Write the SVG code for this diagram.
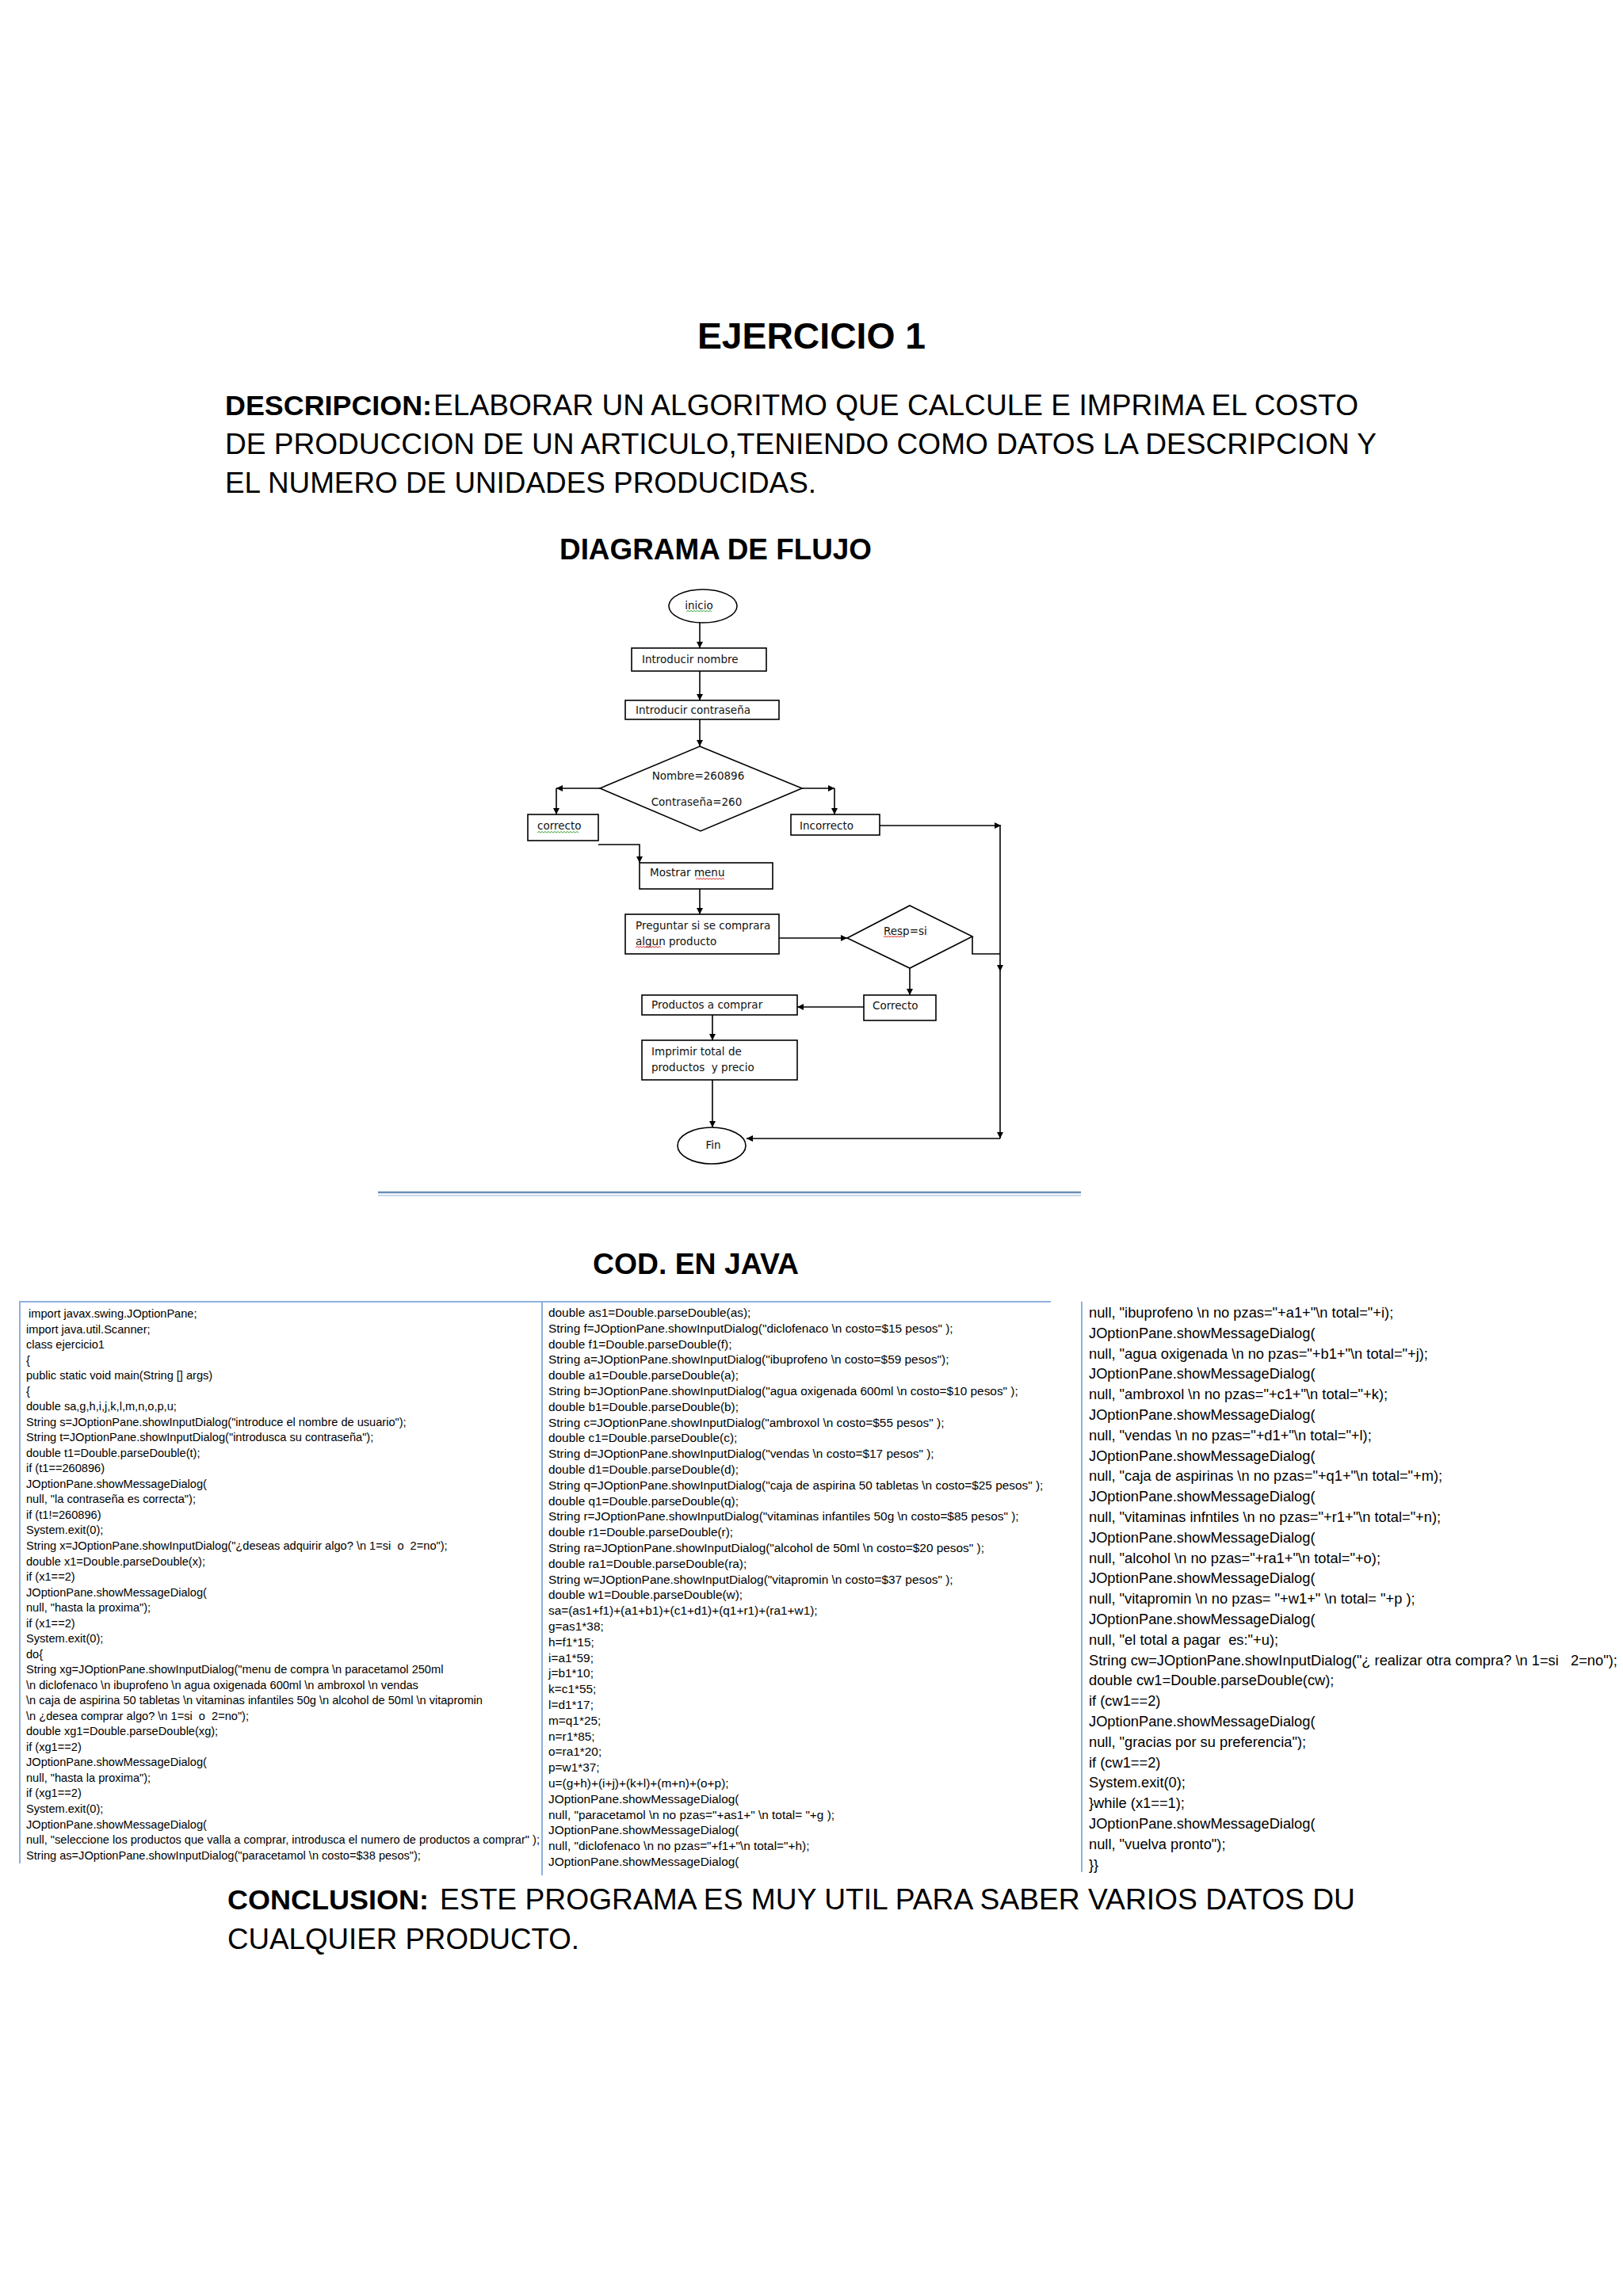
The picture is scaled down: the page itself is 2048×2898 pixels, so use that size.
<svg xmlns="http://www.w3.org/2000/svg" width="2048" height="2898" viewBox="0 0 2048 2898">
<style>
.h{font-family:"Liberation Sans",Arial,sans-serif;font-weight:bold;fill:#000}
.p{font-family:"Liberation Sans",Arial,sans-serif;fill:#000}
.f{font-family:"DejaVu Sans","Liberation Sans",sans-serif;font-size:13.5px;fill:#111;white-space:pre}
.box{fill:#fff;stroke:#000;stroke-width:1.6}
.cn{fill:none;stroke:#000;stroke-width:1.6}
.c1{font-family:"Liberation Sans",Arial,sans-serif;font-size:14.6px;fill:#000;white-space:pre}
.c2{font-family:"Liberation Sans",Arial,sans-serif;font-size:15.4px;fill:#000;white-space:pre}
.c3{font-family:"Liberation Sans",Arial,sans-serif;font-size:18.3px;fill:#000;white-space:pre}
.bd{stroke:#8fb0dc;stroke-width:2;fill:none}
.wg{fill:none;stroke:#3aa63a;stroke-width:1}
.wr{fill:none;stroke:#e02828;stroke-width:1}
</style>
<defs>
<marker id="ah" viewBox="0 0 10 10" refX="10" refY="5" markerWidth="9" markerHeight="8" markerUnits="userSpaceOnUse" orient="auto">
<path d="M0,0 L10,5 L0,10 z" fill="#000"/>
</marker>
</defs>
<rect width="2048" height="2898" fill="#fff"/>

<g id="headings">
<text class="h" x="880" y="440" font-size="46" textLength="288" lengthAdjust="spacingAndGlyphs">EJERCICIO 1</text>
<text class="h" x="284" y="524" font-size="35" textLength="261" lengthAdjust="spacingAndGlyphs">DESCRIPCION:</text>
<text class="p" x="547" y="524" font-size="36" textLength="1167" lengthAdjust="spacingAndGlyphs">ELABORAR UN ALGORITMO QUE CALCULE E IMPRIMA EL COSTO</text>
<text class="p" x="284" y="573" font-size="36" textLength="1453" lengthAdjust="spacingAndGlyphs">DE PRODUCCION DE UN ARTICULO,TENIENDO COMO DATOS LA DESCRIPCION Y</text>
<text class="p" x="284" y="622" font-size="36" textLength="746" lengthAdjust="spacingAndGlyphs">EL NUMERO DE UNIDADES PRODUCIDAS.</text>
<text class="h" x="706" y="706" font-size="37" textLength="394" lengthAdjust="spacingAndGlyphs">DIAGRAMA DE FLUJO</text>
<text class="h" x="748" y="1608" font-size="36" textLength="260" lengthAdjust="spacingAndGlyphs">COD. EN JAVA</text>
<text class="h" x="287" y="2410" font-size="35" textLength="254" lengthAdjust="spacingAndGlyphs">CONCLUSION:</text>
<text class="p" x="555" y="2410" font-size="36" textLength="1155" lengthAdjust="spacingAndGlyphs">ESTE PROGRAMA ES MUY UTIL PARA SABER VARIOS DATOS DU</text>
<text class="p" x="287" y="2460" font-size="36" textLength="444" lengthAdjust="spacingAndGlyphs">CUALQUIER PRODUCTO.</text>
</g>

<g id="connectors">
<line class="cn" x1="883" y1="785" x2="883" y2="818" marker-end="url(#ah)"/>
<line class="cn" x1="883" y1="847" x2="883" y2="884" marker-end="url(#ah)"/>
<line class="cn" x1="883" y1="908" x2="883" y2="942" marker-end="url(#ah)"/>
<line class="cn" x1="757" y1="995" x2="702" y2="995" marker-end="url(#ah)"/>
<line class="cn" x1="702" y1="995" x2="702" y2="1028" marker-end="url(#ah)"/>
<line class="cn" x1="1012" y1="995" x2="1053" y2="995" marker-end="url(#ah)"/>
<line class="cn" x1="1053" y1="995" x2="1053" y2="1028" marker-end="url(#ah)"/>
<line class="cn" x1="1110" y1="1042" x2="1263" y2="1042" marker-end="url(#ah)"/>
<line class="cn" x1="1262" y1="1042" x2="1262" y2="1226" marker-end="url(#ah)"/>
<line class="cn" x1="1262" y1="1226" x2="1262" y2="1437" marker-end="url(#ah)"/>
<line class="cn" x1="1262" y1="1437" x2="942" y2="1437" marker-end="url(#ah)"/>
<path class="cn" d="M755,1066 H807 V1089" marker-end="url(#ah)"/>
<line class="cn" x1="883" y1="1122" x2="883" y2="1154" marker-end="url(#ah)"/>
<line class="cn" x1="983" y1="1184" x2="1069" y2="1184" marker-end="url(#ah)"/>
<path class="cn" d="M1227,1182 V1204 H1262"/>
<line class="cn" x1="1148" y1="1222" x2="1148" y2="1256" marker-end="url(#ah)"/>
<line class="cn" x1="1090" y1="1271" x2="1006" y2="1271" marker-end="url(#ah)"/>
<line class="cn" x1="899" y1="1281" x2="899" y2="1313" marker-end="url(#ah)"/>
<line class="cn" x1="899" y1="1363" x2="899" y2="1423" marker-end="url(#ah)"/>
</g>

<g id="n-inicio">
<ellipse class="box" cx="887" cy="765" rx="43" ry="21"/>
<text class="f" x="882" y="769" text-anchor="middle">inicio</text>
<path class="wg" d="M866,772 l2,-1.5 l2,1.5 l2,-1.5 l2,1.5 l2,-1.5 l2,1.5 l2,-1.5 l2,1.5 l2,-1.5 l2,1.5 l2,-1.5 l2,1.5 l2,-1.5 l2,1.5 l2,-1.5 l2,1.5"/>
</g>
<g id="n-nombre">
<rect class="box" x="797" y="818" width="170" height="29"/>
<text class="f" x="810" y="837">Introducir nombre</text>
</g>
<g id="n-contrasena">
<rect class="box" x="789" y="884" width="194" height="24"/>
<text class="f" x="802" y="901">Introducir contraseña</text>
</g>
<g id="n-decision1">
<polygon class="box" points="883,942 1012,995 884,1049 757,995"/>
<text class="f" x="881" y="984" text-anchor="middle">Nombre=260896</text>
<text class="f" x="879" y="1017" text-anchor="middle">Contraseña=260</text>
</g>
<g id="n-correcto">
<rect class="box" x="666" y="1028" width="89" height="33"/>
<text class="f" x="678" y="1047">correcto</text>
<path class="wg" d="M678,1051 l2,-1.5 l2,1.5 l2,-1.5 l2,1.5 l2,-1.5 l2,1.5 l2,-1.5 l2,1.5 l2,-1.5 l2,1.5 l2,-1.5 l2,1.5 l2,-1.5 l2,1.5 l2,-1.5 l2,1.5 l2,-1.5 l2,1.5 l2,-1.5 l2,1.5 l2,-1.5 l2,1.5 l2,-1.5 l2,1.5 l2,-1.5 l2,1.5"/>
</g>
<g id="n-incorrecto">
<rect class="box" x="998" y="1028" width="112" height="26"/>
<text class="f" x="1009" y="1047">Incorrecto</text>
</g>
<g id="n-menu">
<rect class="box" x="807" y="1089" width="168" height="33"/>
<text class="f" x="820" y="1106">Mostrar menu</text>
<path class="wr" d="M878,1110 l2,-1.5 l2,1.5 l2,-1.5 l2,1.5 l2,-1.5 l2,1.5 l2,-1.5 l2,1.5 l2,-1.5 l2,1.5 l2,-1.5 l2,1.5 l2,-1.5 l2,1.5 l2,-1.5 l2,1.5 l2,-1.5 l2,1.5"/>
</g>
<g id="n-preguntar">
<rect class="box" x="789" y="1154" width="194" height="50"/>
<text class="f" x="802" y="1173">Preguntar si se comprara</text>
<text class="f" x="802" y="1193">algun producto</text>
<path class="wr" d="M802,1196 l2,-1.5 l2,1.5 l2,-1.5 l2,1.5 l2,-1.5 l2,1.5 l2,-1.5 l2,1.5 l2,-1.5 l2,1.5 l2,-1.5 l2,1.5 l2,-1.5 l2,1.5 l2,-1.5 l2,1.5"/>
</g>
<g id="n-resp">
<polygon class="box" points="1148,1143 1227,1182 1148,1222 1069,1184"/>
<text class="f" x="1115" y="1180">Resp=si</text>
<path class="wr" d="M1115,1183 l2,-1.5 l2,1.5 l2,-1.5 l2,1.5 l2,-1.5 l2,1.5 l2,-1.5 l2,1.5 l2,-1.5 l2,1.5 l2,-1.5 l2,1.5"/>
</g>
<g id="n-correcto2">
<rect class="box" x="1090" y="1256" width="91" height="32"/>
<text class="f" x="1101" y="1274">Correcto</text>
</g>
<g id="n-productos">
<rect class="box" x="810" y="1256" width="196" height="25"/>
<text class="f" x="822" y="1273">Productos a comprar</text>
</g>
<g id="n-imprimir">
<rect class="box" x="810" y="1313" width="196" height="50"/>
<text class="f" x="822" y="1332">Imprimir total de</text>
<text class="f" x="822" y="1352">productos  y precio</text>
</g>
<g id="n-fin">
<ellipse class="box" cx="898" cy="1446" rx="43" ry="23"/>
<text class="f" x="900" y="1450" text-anchor="middle">Fin</text>
</g>

<g id="divider">
<line x1="477" y1="1505" x2="1364" y2="1505" stroke="#6d8db6" stroke-width="2.5"/>
<line x1="477" y1="1509" x2="1364" y2="1509" stroke="#c9d8ec" stroke-width="2"/>
</g>

<g id="code-borders">
<line class="bd" x1="24" y1="1643" x2="1326" y2="1643"/>
<line class="bd" x1="25" y1="1643" x2="25" y2="2352"/>
<line class="bd" x1="684" y1="1643" x2="684" y2="2367"/>
<line class="bd" x1="1365" y1="1643" x2="1365" y2="2363"/>
</g>

<g id="code-col1" class="c1">
<text class="c1" x="36" y="1663">import javax.swing.JOptionPane;</text>
<text class="c1" x="33" y="1682.5">import java.util.Scanner;</text>
<text class="c1" x="33" y="1702.1">class ejercicio1</text>
<text class="c1" x="33" y="1721.6">{</text>
<text class="c1" x="33" y="1741.1">public static void main(String [] args)</text>
<text class="c1" x="33" y="1760.7">{</text>
<text class="c1" x="33" y="1780.2">double sa,g,h,i,j,k,l,m,n,o,p,u;</text>
<text class="c1" x="33" y="1799.7">String s=JOptionPane.showInputDialog("introduce el nombre de usuario");</text>
<text class="c1" x="33" y="1819.2">String t=JOptionPane.showInputDialog("introdusca su contraseña");</text>
<text class="c1" x="33" y="1838.8">double t1=Double.parseDouble(t);</text>
<text class="c1" x="33" y="1858.3">if (t1==260896)</text>
<text class="c1" x="33" y="1877.8">JOptionPane.showMessageDialog(</text>
<text class="c1" x="33" y="1897.4">null, "la contraseña es correcta");</text>
<text class="c1" x="33" y="1916.9">if (t1!=260896)</text>
<text class="c1" x="33" y="1936.4">System.exit(0);</text>
<text class="c1" x="33" y="1956">String x=JOptionPane.showInputDialog("¿deseas adquirir algo? \n 1=si  o  2=no");</text>
<text class="c1" x="33" y="1975.5">double x1=Double.parseDouble(x);</text>
<text class="c1" x="33" y="1995">if (x1==2)</text>
<text class="c1" x="33" y="2014.5">JOptionPane.showMessageDialog(</text>
<text class="c1" x="33" y="2034.1">null, "hasta la proxima");</text>
<text class="c1" x="33" y="2053.6">if (x1==2)</text>
<text class="c1" x="33" y="2073.1">System.exit(0);</text>
<text class="c1" x="33" y="2092.7">do{</text>
<text class="c1" x="33" y="2112.2">String xg=JOptionPane.showInputDialog("menu de compra \n paracetamol 250ml</text>
<text class="c1" x="33" y="2131.7">\n diclofenaco \n ibuprofeno \n agua oxigenada 600ml \n ambroxol \n vendas</text>
<text class="c1" x="33" y="2151.3">\n caja de aspirina 50 tabletas \n vitaminas infantiles 50g \n alcohol de 50ml \n vitapromin</text>
<text class="c1" x="33" y="2170.8">\n ¿desea comprar algo? \n 1=si  o  2=no");</text>
<text class="c1" x="33" y="2190.3">double xg1=Double.parseDouble(xg);</text>
<text class="c1" x="33" y="2209.8">if (xg1==2)</text>
<text class="c1" x="33" y="2229.4">JOptionPane.showMessageDialog(</text>
<text class="c1" x="33" y="2248.9">null, "hasta la proxima");</text>
<text class="c1" x="33" y="2268.4">if (xg1==2)</text>
<text class="c1" x="33" y="2288">System.exit(0);</text>
<text class="c1" x="33" y="2307.5">JOptionPane.showMessageDialog(</text>
<text class="c1" x="33" y="2327">null, "seleccione los productos que valla a comprar, introdusca el numero de productos a comprar" );</text>
<text class="c1" x="33" y="2346.5">String as=JOptionPane.showInputDialog("paracetamol \n costo=$38 pesos");</text>
</g>

<g id="code-col2" class="c2">
<text class="c2" x="692" y="1662">double as1=Double.parseDouble(as);</text>
<text class="c2" x="692" y="1681.8">String f=JOptionPane.showInputDialog("diclofenaco \n costo=$15 pesos" );</text>
<text class="c2" x="692" y="1701.6">double f1=Double.parseDouble(f);</text>
<text class="c2" x="692" y="1721.4">String a=JOptionPane.showInputDialog("ibuprofeno \n costo=$59 pesos");</text>
<text class="c2" x="692" y="1741.2">double a1=Double.parseDouble(a);</text>
<text class="c2" x="692" y="1761">String b=JOptionPane.showInputDialog("agua oxigenada 600ml \n costo=$10 pesos" );</text>
<text class="c2" x="692" y="1780.8">double b1=Double.parseDouble(b);</text>
<text class="c2" x="692" y="1800.6">String c=JOptionPane.showInputDialog("ambroxol \n costo=$55 pesos" );</text>
<text class="c2" x="692" y="1820.4">double c1=Double.parseDouble(c);</text>
<text class="c2" x="692" y="1840.2">String d=JOptionPane.showInputDialog("vendas \n costo=$17 pesos" );</text>
<text class="c2" x="692" y="1860">double d1=Double.parseDouble(d);</text>
<text class="c2" x="692" y="1879.8">String q=JOptionPane.showInputDialog("caja de aspirina 50 tabletas \n costo=$25 pesos" );</text>
<text class="c2" x="692" y="1899.6">double q1=Double.parseDouble(q);</text>
<text class="c2" x="692" y="1919.4">String r=JOptionPane.showInputDialog("vitaminas infantiles 50g \n costo=$85 pesos" );</text>
<text class="c2" x="692" y="1939.2">double r1=Double.parseDouble(r);</text>
<text class="c2" x="692" y="1959">String ra=JOptionPane.showInputDialog("alcohol de 50ml \n costo=$20 pesos" );</text>
<text class="c2" x="692" y="1978.8">double ra1=Double.parseDouble(ra);</text>
<text class="c2" x="692" y="1998.6">String w=JOptionPane.showInputDialog("vitapromin \n costo=$37 pesos" );</text>
<text class="c2" x="692" y="2018.4">double w1=Double.parseDouble(w);</text>
<text class="c2" x="692" y="2038.2">sa=(as1+f1)+(a1+b1)+(c1+d1)+(q1+r1)+(ra1+w1);</text>
<text class="c2" x="692" y="2058">g=as1*38;</text>
<text class="c2" x="692" y="2077.8">h=f1*15;</text>
<text class="c2" x="692" y="2097.6">i=a1*59;</text>
<text class="c2" x="692" y="2117.4">j=b1*10;</text>
<text class="c2" x="692" y="2137.2">k=c1*55;</text>
<text class="c2" x="692" y="2157">l=d1*17;</text>
<text class="c2" x="692" y="2176.8">m=q1*25;</text>
<text class="c2" x="692" y="2196.6">n=r1*85;</text>
<text class="c2" x="692" y="2216.4">o=ra1*20;</text>
<text class="c2" x="692" y="2236.2">p=w1*37;</text>
<text class="c2" x="692" y="2256">u=(g+h)+(i+j)+(k+l)+(m+n)+(o+p);</text>
<text class="c2" x="692" y="2275.8">JOptionPane.showMessageDialog(</text>
<text class="c2" x="692" y="2295.6">null, "paracetamol \n no pzas="+as1+" \n total= "+g );</text>
<text class="c2" x="692" y="2315.4">JOptionPane.showMessageDialog(</text>
<text class="c2" x="692" y="2335.2">null, "diclofenaco \n no pzas="+f1+"\n total="+h);</text>
<text class="c2" x="692" y="2355">JOptionPane.showMessageDialog(</text>
</g>

<g id="code-col3" class="c3">
<text class="c3" x="1374" y="1663">null, "ibuprofeno \n no pzas="+a1+"\n total="+i);</text>
<text class="c3" x="1374" y="1688.8">JOptionPane.showMessageDialog(</text>
<text class="c3" x="1374" y="1714.6">null, "agua oxigenada \n no pzas="+b1+"\n total="+j);</text>
<text class="c3" x="1374" y="1740.4">JOptionPane.showMessageDialog(</text>
<text class="c3" x="1374" y="1766.2">null, "ambroxol \n no pzas="+c1+"\n total="+k);</text>
<text class="c3" x="1374" y="1792">JOptionPane.showMessageDialog(</text>
<text class="c3" x="1374" y="1817.8">null, "vendas \n no pzas="+d1+"\n total="+l);</text>
<text class="c3" x="1374" y="1843.6">JOptionPane.showMessageDialog(</text>
<text class="c3" x="1374" y="1869.4">null, "caja de aspirinas \n no pzas="+q1+"\n total="+m);</text>
<text class="c3" x="1374" y="1895.2">JOptionPane.showMessageDialog(</text>
<text class="c3" x="1374" y="1921">null, "vitaminas infntiles \n no pzas="+r1+"\n total="+n);</text>
<text class="c3" x="1374" y="1946.8">JOptionPane.showMessageDialog(</text>
<text class="c3" x="1374" y="1972.6">null, "alcohol \n no pzas="+ra1+"\n total="+o);</text>
<text class="c3" x="1374" y="1998.4">JOptionPane.showMessageDialog(</text>
<text class="c3" x="1374" y="2024.2">null, "vitapromin \n no pzas= "+w1+" \n total= "+p );</text>
<text class="c3" x="1374" y="2050">JOptionPane.showMessageDialog(</text>
<text class="c3" x="1374" y="2075.8">null, "el total a pagar  es:"+u);</text>
<text class="c3" x="1374" y="2101.6">String cw=JOptionPane.showInputDialog("¿ realizar otra compra? \n 1=si   2=no");</text>
<text class="c3" x="1374" y="2127.4">double cw1=Double.parseDouble(cw);</text>
<text class="c3" x="1374" y="2153.2">if (cw1==2)</text>
<text class="c3" x="1374" y="2179">JOptionPane.showMessageDialog(</text>
<text class="c3" x="1374" y="2204.8">null, "gracias por su preferencia");</text>
<text class="c3" x="1374" y="2230.6">if (cw1==2)</text>
<text class="c3" x="1374" y="2256.4">System.exit(0);</text>
<text class="c3" x="1374" y="2282.2">}while (x1==1);</text>
<text class="c3" x="1374" y="2308">JOptionPane.showMessageDialog(</text>
<text class="c3" x="1374" y="2333.8">null, "vuelva pronto");</text>
<text class="c3" x="1374" y="2359.6">}}</text>
</g>
</svg>
